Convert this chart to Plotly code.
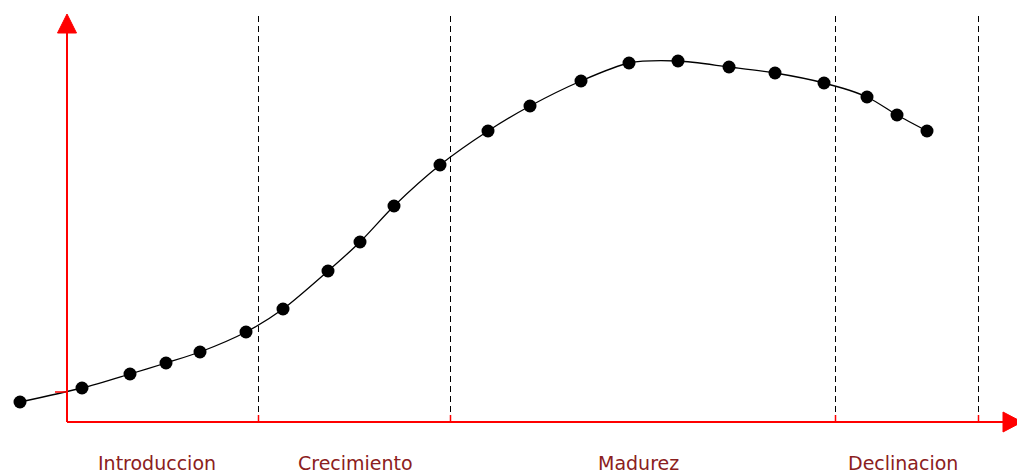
import plotly.graph_objects as go

# Product life cycle: time (x) vs sales (y)
time = [-4.7, 1.5, 6.3, 9.9, 13.3, 17.9, 21.6, 26.1, 29.3, 32.7, 37.3, 42.1,
        46.3, 51.4, 56.2, 61.1, 66.2, 70.8, 75.7, 80.0, 83.0, 86.0]
sales = [2.0, 3.4, 4.8, 5.9, 7.0, 9.0, 11.3, 15.1, 18.0, 21.6, 25.7, 29.1,
         31.6, 34.1, 35.9, 36.1, 35.5, 34.9, 33.9, 32.5, 30.7, 29.1]

phase_bounds = [19.15, 38.35, 76.85, 91.15]
phase_labels = ["Introduccion", "Crecimiento", "Madurez", "Declinacion"]
phase_label_x = [9.0, 28.8, 57.1, 83.6]

X_MAX = 95.5
Y_MAX = 40.8
RED = "#FF0000"

fig = go.Figure()

fig.add_trace(go.Scatter(
    x=time, y=sales, mode="lines+markers",
    line=dict(color="black", width=1.3, shape="spline", smoothing=0.8),
    marker=dict(color="black", size=13, symbol="circle"),
    hoverinfo="x+y", showlegend=False,
))

shapes = []
# dashed phase boundaries
for b in phase_bounds:
    shapes.append(dict(type="line", xref="x", yref="y", x0=b, x1=b, y0=0, y1=41.0,
                       line=dict(color="black", width=1, dash="6px,4px"), layer="below"))
    shapes.append(dict(type="line", xref="x", yref="y", x0=b, x1=b, y0=0, y1=0.7,
                       line=dict(color=RED, width=1.5)))
# axes
shapes.append(dict(type="line", xref="x", yref="y", x0=0, x1=0, y0=0, y1=Y_MAX - 1.5,
                   line=dict(color=RED, width=2)))
shapes.append(dict(type="line", xref="x", yref="y", x0=0, x1=X_MAX - 1.5, y0=0, y1=0,
                   line=dict(color=RED, width=2)))
shapes.append(dict(type="path", xref="x", yref="y",
                   path=f"M -0.95,{Y_MAX-1.9} L 0.95,{Y_MAX-1.9} L 0,{Y_MAX} Z",
                   fillcolor=RED, line=dict(color=RED, width=1)))
shapes.append(dict(type="path", xref="x", yref="y",
                   path=f"M {X_MAX-1.9},-1.0 L {X_MAX-1.9},1.0 L {X_MAX},0 Z",
                   fillcolor=RED, line=dict(color=RED, width=1)))
# small tick on y axis
shapes.append(dict(type="line", xref="x", yref="y", x0=-1.2, x1=0, y0=3.0, y1=3.0,
                   line=dict(color=RED, width=1.5)))

annotations = []
for lx, lab in zip(phase_label_x, phase_labels):
    annotations.append(dict(x=lx, y=-4.1, xref="x", yref="y", text=lab, showarrow=False,
                            font=dict(family="DejaVu Sans", size=19, color="#8B2020"),
                            xanchor="center", yanchor="middle"))

fig.update_layout(
    width=1017, height=468, autosize=False,
    margin=dict(l=0, r=0, t=0, b=0),
    paper_bgcolor="white", plot_bgcolor="white",
    shapes=shapes, annotations=annotations,
    xaxis=dict(range=[-5.9, 95.8], visible=False, fixedrange=True),
    yaxis=dict(range=[-5.4, 41.4], visible=False, fixedrange=True),
    showlegend=False,
)

fig.write_html("out.html")
